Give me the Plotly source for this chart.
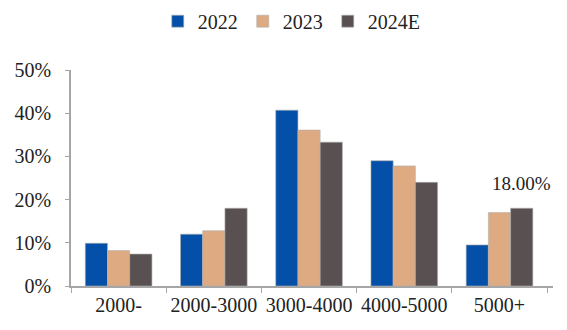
import plotly.graph_objects as go

categories = ["2000-", "2000-3000", "3000-4000", "4000-5000", "5000+"]
series_names = ["2022", "2023", "2024E"]
v2022 = [0.099, 0.120, 0.407, 0.290, 0.095]
v2023 = [0.082, 0.128, 0.361, 0.278, 0.170]
v2024 = [0.074, 0.180, 0.333, 0.240, 0.180]
colors = ["#0450A8", "#DDAA82", "#595151"]
label_idx = 4
label_text = "18.00%"

fig = go.Figure()
for name, vals, col in zip(series_names, [v2022, v2023, v2024], colors):
    fig.add_trace(go.Bar(
        x=categories, y=vals, name=name,
        marker=dict(color=col, line=dict(color="#b0b0b0", width=0.6)),
    ))

fig.add_annotation(
    x=categories[label_idx], y=v2024[label_idx], text=label_text,
    showarrow=False, xshift=22, yshift=12, yanchor="bottom",
    font=dict(family="Liberation Serif", size=19, color="#222"),
)

fig.update_layout(
    width=567, height=330,
    margin=dict(l=71, r=14, t=70, b=44, autoexpand=False),
    paper_bgcolor="white", plot_bgcolor="white",
    barmode="group", bargap=0.3, bargroupgap=0,
    font=dict(family="Liberation Serif", size=20, color="#222"),
    legend=dict(orientation="h", x=0.18, xanchor="left", y=0.995, yanchor="top",
                yref="container", font=dict(size=20), itemwidth=30,
                tracegroupgap=0),
    showlegend=True,
)
fig.update_xaxes(
    showline=True, linecolor="#a6a6a6", linewidth=1.5,
    ticks="outside", tickson="boundaries", ticklen=5, tickcolor="#a6a6a6",
    showgrid=False, tickfont=dict(size=20), tickangle=0, automargin=False,
)
fig.update_yaxes(
    range=[0, 0.5], dtick=0.1, tickformat=".0%",
    showline=True, linecolor="#a6a6a6", linewidth=1.5,
    ticks="outside", ticklen=4, tickcolor="#a6a6a6",
    showgrid=False, zeroline=False, ticklabelstandoff=10,
    tickfont=dict(size=20), automargin=False,
)
fig.write_html("out.html")
